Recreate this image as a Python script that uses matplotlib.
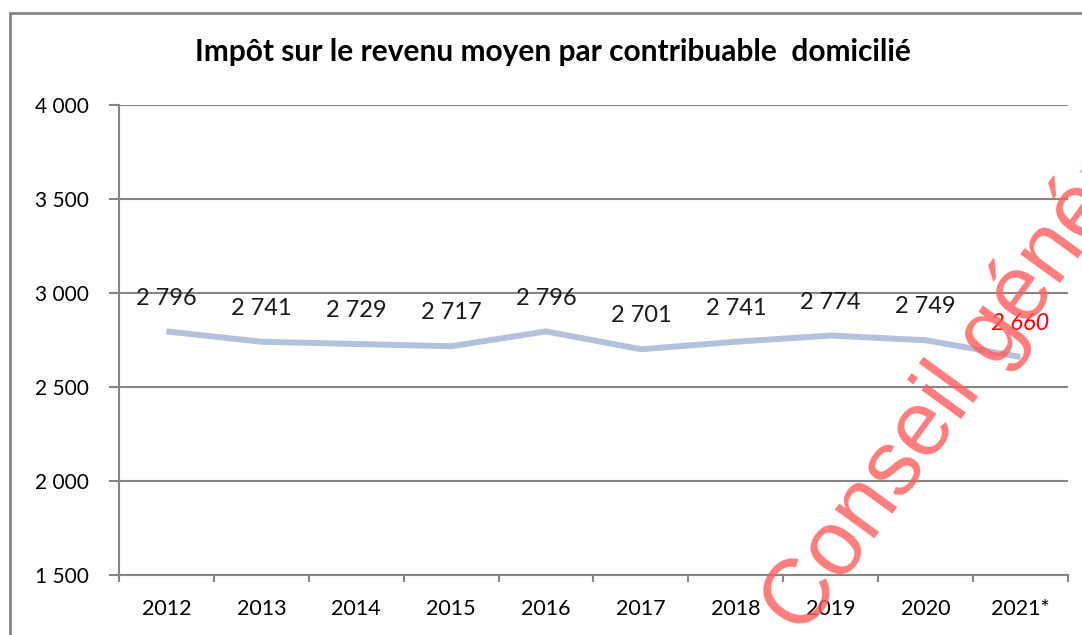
import matplotlib
matplotlib.use("Agg")
import matplotlib.pyplot as plt
from matplotlib.patches import Rectangle

# values
years = ["2012", "2013", "2014", "2015", "2016", "2017", "2018", "2019", "2020", "2021*"]
impot_moyen = [2796, 2741, 2729, 2717, 2796, 2701, 2741, 2774, 2749, 2660]
y_ticks = [1500, 2000, 2500, 3000, 3500, 4000]

title = "Impôt sur le revenu moyen par contribuable  domicilié"
watermark = "Conseil général"

plt.rcParams["font.family"] = ["Lato", "DejaVu Sans"]
GREY = "#868686"


def fmt(v):
    return f"{v:,.0f}".replace(",", " ")


fig = plt.figure(figsize=(10.82, 6.35), dpi=100)
ax = fig.add_axes([0.110, 0.0945, 0.877, 0.740])

x = list(range(len(years)))
ax.plot(x, impot_moyen, color="#B2C2DD", lw=4.3, solid_capstyle="butt", zorder=3)

# data labels, last one (estimate) in red italic
for i, v in enumerate(impot_moyen):
    last = i == len(impot_moyen) - 1
    ax.annotate(fmt(v), (i, v), xytext=(0, 24), textcoords="offset points",
                ha="center", va="center", fontsize=17,
                color="red" if last else "#1a1a1a",
                style="italic" if last else "normal", zorder=4)

ax.set_xlim(-0.5, len(years) - 0.5)
ax.set_ylim(1500, 4000)
ax.set_yticks(y_ticks)
ax.set_yticklabels([fmt(t) for t in y_ticks])
ax.grid(axis="y", color=GREY, lw=1.5)
ax.set_axisbelow(True)

# category labels centred, tick marks on the boundaries
ax.set_xticks([i - 0.5 for i in range(len(years) + 1)])
ax.set_xticklabels([])
ax.set_xticks(x, minor=True)
ax.set_xticklabels(years, minor=True)
ax.tick_params(axis="x", which="major", direction="out", length=5, width=1.5, color=GREY)
ax.tick_params(axis="x", which="minor", length=0, pad=17, labelsize=15.5)
ax.tick_params(axis="y", direction="out", length=7, width=1.5, color=GREY, pad=15, labelsize=15)

for s in ["top", "right"]:
    ax.spines[s].set_visible(False)
for s in ["left", "bottom"]:
    ax.spines[s].set_color(GREY)
    ax.spines[s].set_linewidth(1.5)

fig.text(0.511, 0.918, title, ha="center", va="center", fontsize=21.5, fontweight="bold")

# chart frame
fig.patches.append(Rectangle((10 / 1082, -0.1), 1.2, 1.1 - 13 / 635, transform=fig.transFigure,
                             fill=False, edgecolor=GREY, lw=2))

# watermark
fig.text(0.742, -0.004, watermark, rotation=54, rotation_mode="anchor",
         ha="left", va="baseline", fontsize=66, color="#FF5C5C", alpha=0.8,
         family=["Liberation Sans", "DejaVu Sans"], zorder=10)

fig.savefig("out.png", dpi=100)
